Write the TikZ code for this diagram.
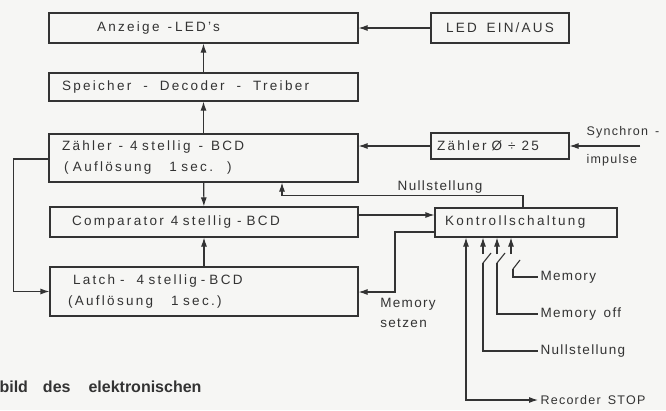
\documentclass[tikz,border=0pt]{standalone}
\usepackage{fontspec}
\setmainfont{Liberation Sans}[LetterSpace=17, WordSpace=1.6]
\newfontfamily\lblfont{Liberation Sans}[LetterSpace=10, WordSpace=1.5]
\newfontfamily\capfont{Liberation Sans}
\usetikzlibrary{arrows.meta}

\definecolor{ink}{HTML}{333333}
\definecolor{paper}{HTML}{F6F6F4}

\newcommand{\sdash}{\hspace{12pt}-\hspace{12pt}}

\tikzset{
    blk/.style={draw, align=left, inner ysep=0pt, minimum height=#1},
    arr/.style={-{Latex[length=9pt,width=6pt]}},
    lbl/.style={inner sep=2pt, anchor=west, font=\lblfont\fontsize{13.5}{20}\selectfont}
}

\begin{document}
\begin{tikzpicture}[x=1pt, y=-1pt, line width=1.1pt, draw=ink, text=ink,
        font=\fontsize{13.5}{21}\selectfont]
        % Frame
        \fill[paper] (0,0) rectangle (666,410);
        \useasboundingbox (0,0) rectangle (666,410);

        % Nodes
        \node[blk=30pt, inner xsep=48pt, text width=213pt] (anz) at (203.5,28) {Anzeige\hspace{8pt}-\hspace{3pt}LED's};
        \node[blk=28pt, inner xsep=13pt, text width=283pt] (spe) at (203.5,87) {Speicher\sdash Decoder\sdash Treiber};
        \node[blk=48pt, inner xsep=13pt, text width=283pt] (zae) at (203.5,158) {Zähler\hspace{7pt}-\hspace{7pt}4 stellig\hspace{8pt}-\hspace{8pt}BCD\\\hspace*{2pt}(\ Auflösung\hspace{18pt}1 sec.\hspace{14pt})};
        \node[blk=30pt, inner xsep=22pt, text width=264pt] (cmp) at (204,222) {Comparator\hspace{7pt}4 stellig\hspace{6pt}-\hspace{5pt}BCD};
        \node[blk=49pt, inner xsep=18pt, text width=272pt] (lat) at (204,291.5) {\hspace*{5pt}Latch\hspace{5pt}-\hspace{12pt}4 stellig\hspace{4pt}-\hspace{4pt}BCD\\(Auflösung\hspace{18pt}1 sec.)};
        \node[draw, minimum width=138pt, minimum height=30pt] (led) at (500,28) {LED EIN\hspace{2pt}/AUS};
        \node[blk=26pt, inner xsep=6pt, text width=126pt] (zcnt) at (500,146) {Zähler\hspace{5pt}Ø\hspace{6pt}÷\hspace{6pt}25};
        \node[blk=29pt, inner xsep=10pt, text width=162pt] (kon) at (526,222.5) {Kontrollschaltung};

        % Free ends
        \coordinate (sync) at (640,146);
        \coordinate (ms) at (395,292);
        \coordinate (s1) at (483,263);
        \coordinate (s2) at (497,263);
        \coordinate (s3) at (513,269);
        \coordinate (rec) at (466,400);

        % Labels
        \node[lbl, font=\lblfont\fontsize{12.5}{14}\selectfont] (syn1) at (584,132) {Synchron -};
        \node[lbl, font=\lblfont\fontsize{12.5}{14}\selectfont] (syn2) at (584,160) {impulse};
        \node[lbl, anchor=center] (nul) at (440,187) {Nullstellung};
        \node[lbl, anchor=center, align=left, inner sep=0pt] (mset) at (408,313) {Memory\\setzen};
        \node[lbl] (lmem) at (538,277) {Memory};
        \node[lbl] (lmoff) at (538,314) {Memory off};
        \node[lbl] (lnul) at (538,351) {Nullstellung};
        \node[lbl, font=\lblfont\fontsize{12.5}{14}\selectfont] (lrec) at (538,400) {Recorder STOP};
        \node[anchor=west, inner sep=0pt, font=\capfont\bfseries\fontsize{16}{18}\selectfont]
            (cap) at (-1,387) {bild\hspace{15pt}des\hspace{18pt}elektronischen};

        % Edges
        \draw[arr] (spe) -- (anz);
        \draw[arr] (zae) -- (spe);
        \draw[arr] (zae) -- (cmp);
        \draw[arr] (lat) -- (cmp);
        \draw[arr] (led) -- (anz);
        \draw[arr] (zcnt.west) -- (zcnt.west -| zae.east);
        \draw[arr] (sync) -- (zcnt.east);
        \draw[arr] ([xshift=-3pt]kon.north) |- ([xshift=78.5pt]zae.south |- nul.south) -- ([xshift=78.5pt]zae.south);
        \draw[arr] ([yshift=7pt]cmp.east) -- ([yshift=7pt]cmp.east -| kon.west);
        \draw[arr] ([yshift=-9.5pt]kon.west) -| (ms) -- (ms -| lat.east);
        \draw[arr] ([yshift=-1pt]zae.west) -- ++(-35,0) |- (lat.west);

        % Switches
        \draw[arr] (s1 |- 0,254) -- (s1 |- kon.south);
        \draw (s1) -- ++(8,-10);
        \draw (s1) |- (lnul.west);
        \draw[arr] (s2 |- 0,254) -- (s2 |- kon.south);
        \draw (s2) -- ++(8,-10);
        \draw (s2) |- (lmoff.west);
        \draw[arr] ([xshift=-2pt]s3 |- 0,254) -- ([xshift=-2pt]s3 |- kon.south);
        \draw (s3) -- ++(7,-9);
        \draw (s3) |- (lmem.west);
        \draw[{Latex[length=9pt,width=6pt]}-{Latex[length=9pt,width=6pt]}] (rec |- kon.south) -- (rec) -- (lrec.west);
    \end{tikzpicture}
\end{document}
